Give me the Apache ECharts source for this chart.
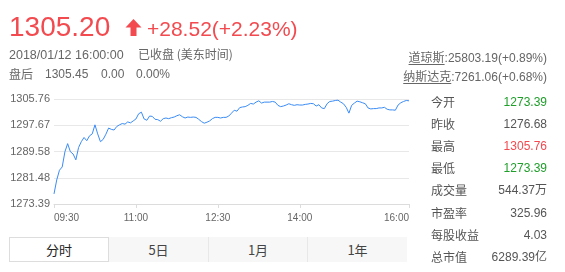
<!DOCTYPE html>
<html><head><meta charset="utf-8">
<script src="https://cdn.jsdelivr.net/npm/echarts@6/dist/echarts.min.js"></script>
<style>
html,body{margin:0;padding:0;background:#fff;}
body{width:565px;height:272px;position:relative;overflow:hidden;font-family:"Liberation Sans",Arial,"Noto Sans CJK SC",sans-serif;}
#chart{position:absolute;left:0;top:0;width:565px;height:272px;}
.t{position:absolute;white-space:nowrap;color:#666;font-size:12px;line-height:14px;}
.cn{font-family:"Noto Sans CJK SC","Liberation Sans",sans-serif;}
.u{text-decoration:underline;text-underline-offset:2px;}
.row{position:absolute;left:431px;width:116px;height:22px;line-height:22px;font-size:12px;color:#555;}
.row .l{position:absolute;left:0;font-family:"Noto Sans CJK SC",sans-serif;}
.row .v{position:absolute;right:0;}
.tabs{position:absolute;left:9px;top:237px;width:398px;height:25px;background:#f7f7f7;}
.tab{position:absolute;top:0;height:25px;line-height:25px;text-align:center;font-size:13px;color:#444;font-family:"Noto Sans CJK SC",sans-serif;}
</style></head>
<body>
<div id="chart"></div>

<div class="t" style="left:9px;top:12.5px;font-size:28px;line-height:28px;color:#f24a4f;">1305.20</div>
<svg style="position:absolute;left:125px;top:19px" width="17" height="17" viewBox="0 0 17 17"><path d="M8.5 0 L16.5 8.5 L11.5 8.5 L11.5 17 L5.5 17 L5.5 8.5 L0.5 8.5 Z" fill="#f24a4f"/></svg>
<div class="t" style="left:147px;top:18px;font-size:21px;line-height:21px;color:#f24a4f;">+28.52(+2.23%)</div>

<div class="t" style="left:9px;top:48px;font-size:12.5px;">2018/01/12 16:00:00</div>
<div class="t cn" style="left:138px;top:47px;">已收盘 (美东时间)</div>

<div class="t cn" style="left:9px;top:67px;">盘后</div>
<div class="t" style="left:45px;top:67px;">1305.45</div>
<div class="t" style="left:101px;top:67px;">0.00</div>
<div class="t" style="left:136px;top:67px;">0.00%</div>

<div class="t" style="right:18px;top:50px;"><span class="cn u">道琼斯</span>:25803.19(+0.89%)</div>
<div class="t" style="right:18px;top:69px;"><span class="cn u">纳斯达克</span>:7261.06(+0.68%)</div>

<div id="panel"></div>

<div class="tabs">
  <div class="tab" style="left:0;width:98px;background:#fff;border:1px solid #ddd;height:23px;line-height:23px;color:#222;">分时</div>
  <div class="tab" style="left:100px;width:99px;">5日</div>
  <div style="position:absolute;left:199px;top:0;width:1px;height:25px;background:#e8e8e8"></div>
  <div class="tab" style="left:200px;width:98px;">1月</div>
  <div style="position:absolute;left:298px;top:0;width:1px;height:25px;background:#e8e8e8"></div>
  <div class="tab" style="left:299px;width:99px;">1年</div>
</div>

<script>
const times = [
"09:30","09:33","09:36","09:39","09:42","09:45","09:48","09:51","09:54","09:57",
"10:00","10:03","10:06","10:09","10:12","10:15","10:18","10:21","10:24","10:27",
"10:30","10:33","10:36","10:39","10:42","10:45","10:48","10:51","10:54","10:57",
"11:00","11:03","11:06","11:09","11:12","11:15","11:18","11:21","11:24","11:27",
"11:30","11:33","11:36","11:39","11:42","11:45","11:48","11:51","11:54","11:57",
"12:00","12:03","12:06","12:09","12:12","12:15","12:18","12:21","12:24","12:27",
"12:30","12:33","12:36","12:39","12:42","12:45","12:48","12:51","12:54","12:57",
"13:00","13:03","13:06","13:09","13:12","13:15","13:18","13:21","13:24","13:27",
"13:30","13:33","13:36","13:39","13:42","13:45","13:48","13:51","13:54","13:57",
"14:00","14:03","14:06","14:09","14:12","14:15","14:18","14:21","14:24","14:27",
"14:30","14:33","14:36","14:39","14:42","14:45","14:48","14:51","14:54","14:57",
"15:00","15:03","15:06","15:09","15:12","15:15","15:18","15:21","15:24","15:27",
"15:30","15:33","15:36","15:39","15:42","15:45","15:48","15:51","15:54","15:57",
"16:00"];

const prices = [
1276.5,1280.8,1283.8,1284.8,1289.5,1292.0,1289.5,1288.8,1287.0,1290.8,
1292.6,1293.9,1292.9,1294.4,1295.0,1297.8,1295.0,1292.6,1293.3,1294.9,
1296.8,1296.4,1296.2,1297.3,1297.8,1298.2,1298.0,1298.7,1298.4,1299.0,
1299.6,1301.2,1301.7,1299.6,1299.2,1300.5,1300.4,1299.5,1299.4,1298.9,
1299.7,1299.9,1299.7,1300.0,1300.2,1300.6,1300.9,1300.3,1299.9,1300.2,
1300.1,1300.2,1300.1,1299.5,1298.8,1298.3,1298.6,1299.0,1299.7,1300.1,
1300.1,1299.9,1300.1,1300.1,1300.5,1301.4,1302.3,1302.0,1303.1,1303.3,
1303.4,1303.8,1304.4,1304.2,1304.8,1305.2,1304.5,1304.8,1304.8,1304.8,
1305.0,1304.8,1303.8,1303.4,1303.6,1303.9,1304.3,1304.0,1303.8,1304.0,
1303.9,1303.9,1304.1,1304.2,1304.4,1304.3,1303.6,1304.0,1303.0,1302.8,
1304.3,1305.0,1305.1,1305.3,1305.4,1304.8,1304.3,1303.2,1301.4,1303.8,
1304.5,1305.1,1304.9,1304.6,1304.3,1303.0,1302.7,1302.8,1302.8,1303.0,
1303.0,1303.2,1302.6,1302.4,1302.4,1302.3,1303.9,1304.6,1305.0,1305.3,
1305.2];

const xTickLabels = ["09:30","11:00","12:30","14:00","16:00"];
const yTickLabels = ["1273.39","1281.48","1289.58","1297.67","1305.76"];

const statLabels = ["今开","昨收","最高","最低","成交量","市盈率","每股收益","总市值"];
const statValues = ["1273.39","1276.68","1305.76","1273.39","544.37万","325.96","4.03","6289.39亿"];
const statColors = ["#1f9e2a","#555","#f24a4f","#1f9e2a","#555","#555","#555","#555"];

// side panel
const panel = document.getElementById('panel');
statLabels.forEach((lab, i) => {
  const d = document.createElement('div');
  d.className = 'row';
  d.style.top = (91 + i * 22.1) + 'px';
  d.innerHTML = '<span class="l">' + lab + '</span><span class="v" style="color:' + statColors[i] + '">' + statValues[i] + '</span>';
  panel.appendChild(d);
});

const yMin = parseFloat(yTickLabels[0]);
const yMax = parseFloat(yTickLabels[yTickLabels.length - 1]);
const showTick = (idx, val) => xTickLabels.indexOf(val) >= 0;

const chart = echarts.init(document.getElementById('chart'));
chart.setOption({
  animation: false,
  grid: {left: 54, right: 156, top: 99, bottom: 68},
  xAxis: {
    type: 'category',
    data: times,
    boundaryGap: false,
    axisLine: {lineStyle: {color: '#dcdcdc'}},
    axisTick: {show: true, interval: showTick, length: 4, lineStyle: {color: '#dcdcdc'}},
    axisLabel: {interval: showTick, color: '#666', fontSize: 10, margin: 9,
      fontFamily: '"Liberation Sans", Arial, sans-serif',
      alignMinLabel: 'left', alignMaxLabel: 'right'},
    splitLine: {show: false}
  },
  yAxis: {
    type: 'value',
    min: yMin, max: yMax,
    interval: (yMax - yMin) / (yTickLabels.length - 1),
    axisLine: {show: false},
    axisTick: {show: false},
    splitLine: {lineStyle: {color: '#e8e8e8'}},
    axisLabel: {color: '#666', fontSize: 11, margin: 4,
      fontFamily: '"Liberation Sans", Arial, sans-serif',
      formatter: function (v) {
        let best = yTickLabels[0], bd = Infinity;
        yTickLabels.forEach(s => { const d = Math.abs(parseFloat(s) - v); if (d < bd) { bd = d; best = s; } });
        return best;
      }}
  },
  series: [{
    type: 'line',
    data: prices,
    showSymbol: false,
    lineStyle: {color: '#3a8bf5', width: 1},
    itemStyle: {color: '#3a8bf5'}
  }]
});
</script>
</body></html>
